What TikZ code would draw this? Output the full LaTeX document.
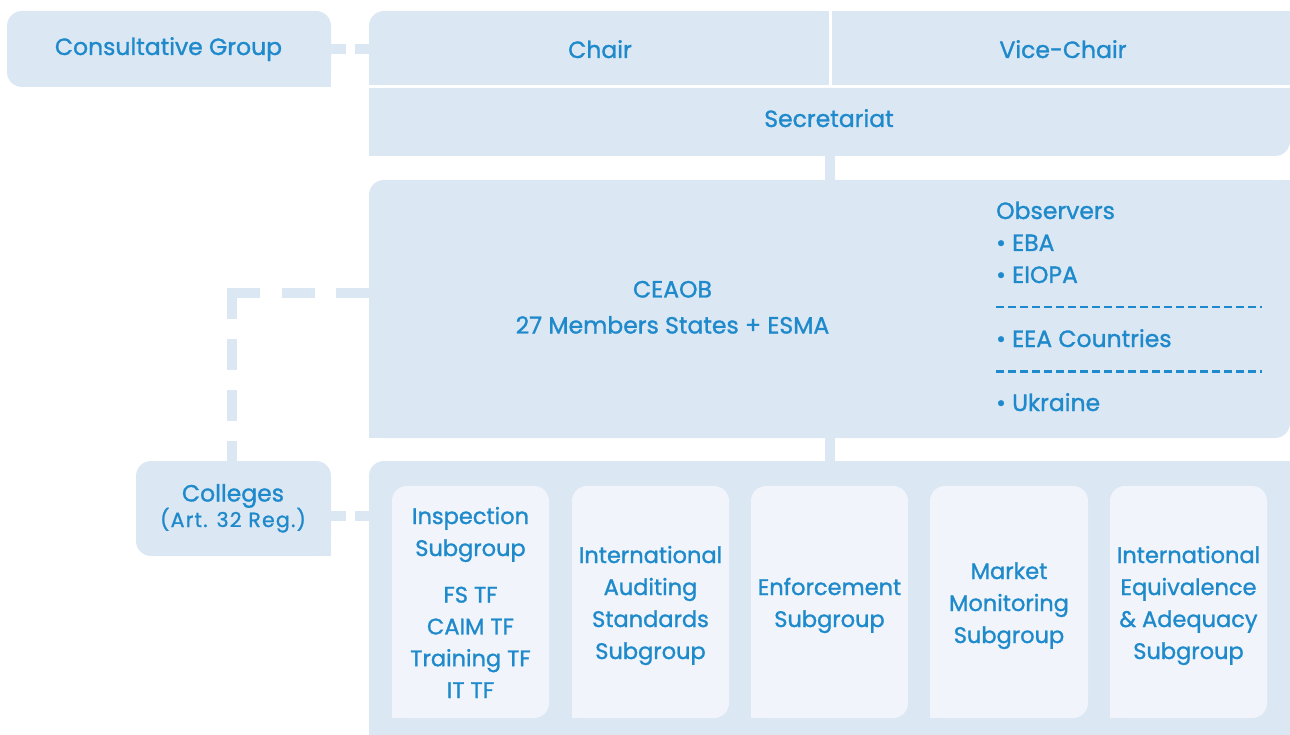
\documentclass[tikz,border=0pt]{standalone}
\usepackage{fontspec}
\setmainfont{Poppins}[FakeBold=1.2]
\definecolor{boxbg}{HTML}{DCE7F4}
\definecolor{subbg}{HTML}{F1F5FB}
\definecolor{tblue}{HTML}{1E8ACB}
\newcommand\mkbox[6]{\node[#6, minimum width={(#4)-(#2)}, minimum height={(#5)-(#3)}, anchor=north west] (#1) at (#2,#3) {};}
\begin{document}
\begin{tikzpicture}[x=1pt,y=-1pt,
  shapebox/.style={fill=boxbg, draw=none, rounded corners=15pt, inner sep=0pt, outer sep=0pt},
  subbox/.style={fill=subbg, draw=none, rounded corners=15pt, inner sep=0pt, outer sep=0pt},
  sqbox/.style={fill=boxbg, draw=none, inner sep=0pt, outer sep=0pt},
  txt/.style={text=tblue, font=\fontsize{23.5}{32}\selectfont, align=center, inner sep=0pt, anchor=base},
  subtxt/.style={text=tblue, font=\fontsize{22.5}{32}\selectfont, align=center, inner sep=0pt, anchor=base},
  ltxt/.style={text=tblue, font=\fontsize{23.5}{32}\selectfont, inner sep=0pt, anchor=base west},
  smalltxt/.style={text=tblue, font=\fontsize{20.5}{24}\selectfont\addfontfeatures{LetterSpace=6}, inner sep=0pt, anchor=base},
  conn/.style={draw=boxbg, line width=10pt, line cap=butt},
  obsline/.style={draw=tblue, line width=2.5pt, dash pattern=on 8pt off 4pt}]
\useasboundingbox (0,0) rectangle (1290,735);
\clip (0,0) rectangle (1290,735);
% shapes
\mkbox{cg}{7}{11}{331}{87}{shapebox}
\fill[boxbg] (316,72) rectangle (331,87);
\mkbox{chair}{369}{11}{829}{85}{shapebox}
\fill[boxbg] (814,11) rectangle (829,26);
\fill[boxbg] (814,70) rectangle (829,85);
\fill[boxbg] (369,70) rectangle (384,85);
\mkbox{vice}{832}{11}{1290}{85}{sqbox}
\mkbox{sec}{369}{88}{1290}{156}{shapebox}
\fill[boxbg] (369,88) rectangle (384,103);
\fill[boxbg] (1275,88) rectangle (1290,103);
\fill[boxbg] (369,141) rectangle (384,156);
\mkbox{ceaob}{369}{180}{1290}{438}{shapebox}
\fill[boxbg] (1275,180) rectangle (1290,195);
\fill[boxbg] (369,423) rectangle (384,438);
\mkbox{bottom}{369}{461}{1290}{760}{shapebox}
\fill[boxbg] (1275,461) rectangle (1290,476);
\mkbox{colleges}{136}{461}{331}{556}{shapebox}
\fill[boxbg] (316,541) rectangle (331,556);
\mkbox{sg1}{392}{486}{549}{718}{subbox}
\mkbox{sg2}{572}{486}{729}{718}{subbox}
\mkbox{sg3}{751}{486}{908}{718}{subbox}
\mkbox{sg4}{930}{486}{1088}{718}{subbox}
\mkbox{sg5}{1110}{486}{1267}{718}{subbox}
\foreach \xa in {392,572,751,930,1110}{\fill[subbg] (\xa,703) rectangle ++(15,15);}
% connectors
\draw[conn, dash pattern=on 15pt off 9pt] (cg.east) -- (cg.east -| chair.west);
\draw[conn] (sec.south) -- (ceaob.north);
\draw[conn] (ceaob.south) -- (ceaob.south |- bottom.north);
\draw[conn, dash pattern=on 15pt off 9pt] ([yshift=-7.5pt]colleges.east) -- ([yshift=-7.5pt]colleges.east -| bottom.west);
\coordinate (corner) at (232,293);
\draw[conn, dash pattern=on 33pt off 21.5pt] ([xshift=-5pt]corner) -- (corner -| ceaob.west);
\draw[conn, dash pattern=on 30.5pt off 20.5pt] ([yshift=5pt]corner) -- (corner |- colleges.north);
% texts (anchor = baseline of the last line)
\node[txt] (tcg) at (168.5,55) {Consultative Group};
\node[txt] (tchair) at (600,58) {Chair};
\node[txt] (tvice) at (1063,58) {Vice-Chair};
\node[txt] (tsec) at (829,127) {Secretariat};
\node[txt, font=\fontsize{23.5}{36}\selectfont] (tceaob) at (672.5,333.5) {CEAOB\\27 Members States + ESMA};
\node[ltxt] (tobs1) at (996,219) {Observers};
\node[ltxt] (tobs2) at (996,251) {• EBA};
\node[ltxt] (tobs3) at (996,283) {• EIOPA};
\draw[obsline] (996,307) -- (1262,307);
\node[ltxt] (tobs4) at (996,347) {• EEA Countries};
\draw[obsline] (996,371.5) -- (1262,371.5);
\node[ltxt] (tobs5) at (996,411) {• Ukraine};
\node[txt] (tcol) at (233,501.5) {Colleges};
\node[smalltxt] (tcol2) at (233,527) {(Art. 32 Reg.)};
\node[subtxt] (t1a) at (470.5,556) {Inspection\\Subgroup};
\node[subtxt, font=\fontsize{22.5}{31.8}\selectfont] (t1b) at (470.5,698) {FS TF\\CAIM TF\\Training TF\\IT TF};
\node[subtxt] (t2) at (650.5,659) {International\\Auditing\\Standards\\Subgroup};
\node[subtxt] (t3) at (829.5,627) {Enforcement\\Subgroup};
\node[subtxt] (t4) at (1009,643) {Market\\Monitoring\\Subgroup};
\node[subtxt] (t5) at (1188.5,659) {International\\Equivalence\\\& Adequacy\\Subgroup};
\end{tikzpicture}
\end{document}
